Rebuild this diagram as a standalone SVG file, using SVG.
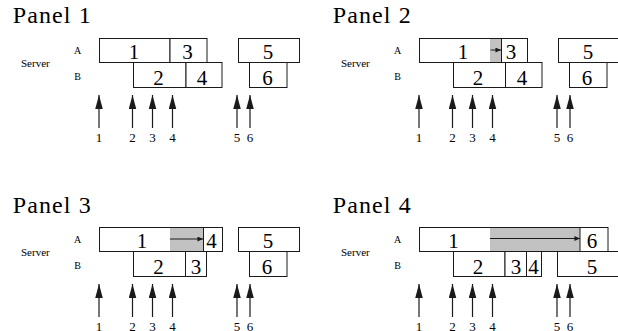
<svg xmlns="http://www.w3.org/2000/svg" width="618" height="331" viewBox="0 0 618 331">
<defs>
<marker id="bigHead" markerUnits="userSpaceOnUse" markerWidth="14" markerHeight="8" viewBox="0 0 13 7" refX="13" refY="3.5" orient="auto">
<path d="M0,0 L13,3.5 L0,7 Z" fill="#1a1a1a"/>
</marker>
<marker id="smallHead" markerUnits="userSpaceOnUse" markerWidth="6" markerHeight="5" viewBox="0 0 5 4.5" refX="5" refY="2.25" orient="auto">
<path d="M0,0 L5,2.25 L0,4.5 Z" fill="#1a1a1a"/>
</marker>
</defs>
<rect width="618" height="331" fill="#fff"/>

<!-- Panel 1 -->
<text x="12.7" y="23.3" font-family="Times New Roman" font-size="24" textLength="78" lengthAdjust="spacing">Panel 1</text>
<text x="21" y="66.5" font-family="Times New Roman" font-size="11">Server</text>
<text x="77.5" y="53.5" font-family="Times New Roman" font-size="10" text-anchor="middle">A</text>
<text x="77.5" y="79.5" font-family="Times New Roman" font-size="10" text-anchor="middle">B</text>
<g id="p1-job1"><rect fill="#fff" stroke="#1a1a1a" x="99.5" y="38.5" width="70.5" height="24"/><text x="134" y="59" font-family="Times New Roman" font-size="21" text-anchor="middle">1</text></g>
<g id="p1-job3"><rect fill="#fff" stroke="#1a1a1a" x="170" y="38.5" width="37" height="24"/><text x="187.5" y="59" font-family="Times New Roman" font-size="21" text-anchor="middle">3</text></g>
<g id="p1-job5"><rect fill="#fff" stroke="#1a1a1a" x="238.5" y="38.5" width="61" height="24"/><text x="268" y="59" font-family="Times New Roman" font-size="21" text-anchor="middle">5</text></g>
<g id="p1-job2"><rect fill="#fff" stroke="#1a1a1a" x="133.5" y="62.5" width="52.5" height="25"/><text x="158.5" y="84.5" font-family="Times New Roman" font-size="21" text-anchor="middle">2</text></g>
<g id="p1-job4"><rect fill="#fff" stroke="#1a1a1a" x="186" y="62.5" width="36" height="25"/><text x="202" y="84.5" font-family="Times New Roman" font-size="21" text-anchor="middle">4</text></g>
<g id="p1-job6"><rect fill="#fff" stroke="#1a1a1a" x="249.5" y="62.5" width="37.5" height="25"/><text x="267.5" y="84.5" font-family="Times New Roman" font-size="21" text-anchor="middle">6</text></g>
<g id="p1-connectors" stroke="#1a1a1a" stroke-width="1.2" fill="none" marker-end="url(#bigHead)">
<path d="M99,128 V95"/><path d="M132.5,128 V95"/><path d="M152.5,128 V95"/><path d="M172.5,128 V95"/><path d="M237,128 V95"/><path d="M250,128 V95"/>
</g>
<text x="99" y="142" font-family="Times New Roman" font-size="13" text-anchor="middle">1</text>
<text x="132.5" y="142" font-family="Times New Roman" font-size="13" text-anchor="middle">2</text>
<text x="152.5" y="142" font-family="Times New Roman" font-size="13" text-anchor="middle">3</text>
<text x="172.5" y="142" font-family="Times New Roman" font-size="13" text-anchor="middle">4</text>
<text x="237" y="142" font-family="Times New Roman" font-size="13" text-anchor="middle">5</text>
<text x="250" y="142" font-family="Times New Roman" font-size="13" text-anchor="middle">6</text>

<!-- Panel 2 (x+320) -->
<text x="332.7" y="23.3" font-family="Times New Roman" font-size="24" textLength="78" lengthAdjust="spacing">Panel 2</text>
<text x="341" y="66.5" font-family="Times New Roman" font-size="11">Server</text>
<text x="397.5" y="53.5" font-family="Times New Roman" font-size="10" text-anchor="middle">A</text>
<text x="397.5" y="79.5" font-family="Times New Roman" font-size="10" text-anchor="middle">B</text>
<g id="p2-job1"><rect fill="#fff" stroke="#1a1a1a" x="419.5" y="38.5" width="82" height="24"/><rect fill="#c2c2c2" x="490" y="39" width="11" height="23"/><text x="463" y="59" font-family="Times New Roman" font-size="21" text-anchor="middle">1</text></g>
<g id="p2-job3"><rect fill="#fff" stroke="#1a1a1a" x="501.5" y="38.5" width="26" height="24"/><text x="511" y="59" font-family="Times New Roman" font-size="21" text-anchor="middle">3</text></g>
<g id="p2-job5"><rect fill="#fff" stroke="#1a1a1a" x="558.5" y="38.5" width="61" height="24"/><text x="588" y="59" font-family="Times New Roman" font-size="21" text-anchor="middle">5</text></g>
<g id="p2-job2"><rect fill="#fff" stroke="#1a1a1a" x="453.5" y="62.5" width="52" height="25"/><text x="478" y="84.5" font-family="Times New Roman" font-size="21" text-anchor="middle">2</text></g>
<g id="p2-job4"><rect fill="#fff" stroke="#1a1a1a" x="505.5" y="62.5" width="36.5" height="25"/><text x="522" y="84.5" font-family="Times New Roman" font-size="21" text-anchor="middle">4</text></g>
<g id="p2-job6"><rect fill="#fff" stroke="#1a1a1a" x="569.5" y="62.5" width="37.5" height="25"/><text x="587" y="84.5" font-family="Times New Roman" font-size="21" text-anchor="middle">6</text></g>
<g id="p2-connectors" stroke="#1a1a1a" fill="none">
<g stroke-width="1.2" marker-end="url(#bigHead)"><path d="M419,128 V95"/><path d="M452.5,128 V95"/><path d="M472.5,128 V95"/><path d="M492.5,128 V95"/><path d="M557,128 V95"/><path d="M570,128 V95"/></g>
<path marker-end="url(#smallHead)" d="M490.5,50 H501"/>
</g>
<text x="419" y="142" font-family="Times New Roman" font-size="13" text-anchor="middle">1</text>
<text x="452.5" y="142" font-family="Times New Roman" font-size="13" text-anchor="middle">2</text>
<text x="472.5" y="142" font-family="Times New Roman" font-size="13" text-anchor="middle">3</text>
<text x="492.5" y="142" font-family="Times New Roman" font-size="13" text-anchor="middle">4</text>
<text x="557" y="142" font-family="Times New Roman" font-size="13" text-anchor="middle">5</text>
<text x="570" y="142" font-family="Times New Roman" font-size="13" text-anchor="middle">6</text>

<!-- Panel 3 (y+189) -->
<text x="12.7" y="213.3" font-family="Times New Roman" font-size="24" textLength="78" lengthAdjust="spacing">Panel 3</text>
<text x="21" y="255.5" font-family="Times New Roman" font-size="11">Server</text>
<text x="77.5" y="242.5" font-family="Times New Roman" font-size="10" text-anchor="middle">A</text>
<text x="77.5" y="268.5" font-family="Times New Roman" font-size="10" text-anchor="middle">B</text>
<g id="p3-job1"><rect fill="#fff" stroke="#1a1a1a" x="99.5" y="227.5" width="104" height="24"/><rect fill="#c2c2c2" x="170" y="228" width="33" height="23"/><text x="142" y="248" font-family="Times New Roman" font-size="21" text-anchor="middle">1</text></g>
<g id="p3-job4"><rect fill="#fff" stroke="#1a1a1a" x="203.5" y="227.5" width="19" height="24"/><text x="211.5" y="248" font-family="Times New Roman" font-size="21" text-anchor="middle">4</text></g>
<g id="p3-job5"><rect fill="#fff" stroke="#1a1a1a" x="238.5" y="227.5" width="61" height="24"/><text x="268" y="248" font-family="Times New Roman" font-size="21" text-anchor="middle">5</text></g>
<g id="p3-job2"><rect fill="#fff" stroke="#1a1a1a" x="133.5" y="251.5" width="52" height="25"/><text x="158.5" y="273.5" font-family="Times New Roman" font-size="21" text-anchor="middle">2</text></g>
<g id="p3-job3"><rect fill="#fff" stroke="#1a1a1a" x="185.5" y="251.5" width="21" height="25"/><text x="196" y="273.5" font-family="Times New Roman" font-size="21" text-anchor="middle">3</text></g>
<g id="p3-job6"><rect fill="#fff" stroke="#1a1a1a" x="249.5" y="251.5" width="37.5" height="25"/><text x="267" y="273.5" font-family="Times New Roman" font-size="21" text-anchor="middle">6</text></g>
<g id="p3-connectors" stroke="#1a1a1a" fill="none">
<g stroke-width="1.2" marker-end="url(#bigHead)"><path d="M99,317 V284"/><path d="M132.5,317 V284"/><path d="M152.5,317 V284"/><path d="M172.5,317 V284"/><path d="M237,317 V284"/><path d="M250,317 V284"/></g>
<path marker-end="url(#smallHead)" d="M170,239 H203"/>
</g>
<text x="99" y="331" font-family="Times New Roman" font-size="13" text-anchor="middle">1</text>
<text x="132.5" y="331" font-family="Times New Roman" font-size="13" text-anchor="middle">2</text>
<text x="152.5" y="331" font-family="Times New Roman" font-size="13" text-anchor="middle">3</text>
<text x="172.5" y="331" font-family="Times New Roman" font-size="13" text-anchor="middle">4</text>
<text x="237" y="331" font-family="Times New Roman" font-size="13" text-anchor="middle">5</text>
<text x="250" y="331" font-family="Times New Roman" font-size="13" text-anchor="middle">6</text>

<!-- Panel 4 (x+320, y+189) -->
<text x="332.7" y="213.3" font-family="Times New Roman" font-size="24" textLength="78" lengthAdjust="spacing">Panel 4</text>
<text x="341" y="255.5" font-family="Times New Roman" font-size="11">Server</text>
<text x="397.5" y="242.5" font-family="Times New Roman" font-size="10" text-anchor="middle">A</text>
<text x="397.5" y="268.5" font-family="Times New Roman" font-size="10" text-anchor="middle">B</text>
<g id="p4-job1"><rect fill="#fff" stroke="#1a1a1a" x="419.5" y="227.5" width="160.5" height="24"/><rect fill="#c2c2c2" x="490" y="228" width="90" height="23"/><text x="453.5" y="248" font-family="Times New Roman" font-size="21" text-anchor="middle">1</text></g>
<g id="p4-job6"><rect fill="#fff" stroke="#1a1a1a" x="580" y="227.5" width="28" height="24"/><text x="592" y="248" font-family="Times New Roman" font-size="21" text-anchor="middle">6</text></g>
<g id="p4-job2"><rect fill="#fff" stroke="#1a1a1a" x="453.5" y="251.5" width="51.5" height="25"/><text x="478" y="273.5" font-family="Times New Roman" font-size="21" text-anchor="middle">2</text></g>
<g id="p4-job3"><rect fill="#fff" stroke="#1a1a1a" x="505" y="251.5" width="21.5" height="25"/><text x="516" y="273.5" font-family="Times New Roman" font-size="21" text-anchor="middle">3</text></g>
<g id="p4-job4"><rect fill="#fff" stroke="#1a1a1a" x="526.5" y="251.5" width="15" height="25"/><text x="533.5" y="273.5" font-family="Times New Roman" font-size="21" text-anchor="middle">4</text></g>
<g id="p4-job5"><rect fill="#fff" stroke="#1a1a1a" x="557.5" y="251.5" width="70" height="25"/><text x="592" y="273.5" font-family="Times New Roman" font-size="21" text-anchor="middle">5</text></g>
<g id="p4-connectors" stroke="#1a1a1a" fill="none">
<g stroke-width="1.2" marker-end="url(#bigHead)"><path d="M419,317 V284"/><path d="M452.5,317 V284"/><path d="M472.5,317 V284"/><path d="M492.5,317 V284"/><path d="M557,317 V284"/><path d="M570,317 V284"/></g>
<path marker-end="url(#smallHead)" d="M490,238.5 H580"/>
</g>
<text x="419" y="331" font-family="Times New Roman" font-size="13" text-anchor="middle">1</text>
<text x="452.5" y="331" font-family="Times New Roman" font-size="13" text-anchor="middle">2</text>
<text x="472.5" y="331" font-family="Times New Roman" font-size="13" text-anchor="middle">3</text>
<text x="492.5" y="331" font-family="Times New Roman" font-size="13" text-anchor="middle">4</text>
<text x="557" y="331" font-family="Times New Roman" font-size="13" text-anchor="middle">5</text>
<text x="570" y="331" font-family="Times New Roman" font-size="13" text-anchor="middle">6</text>
</svg>
